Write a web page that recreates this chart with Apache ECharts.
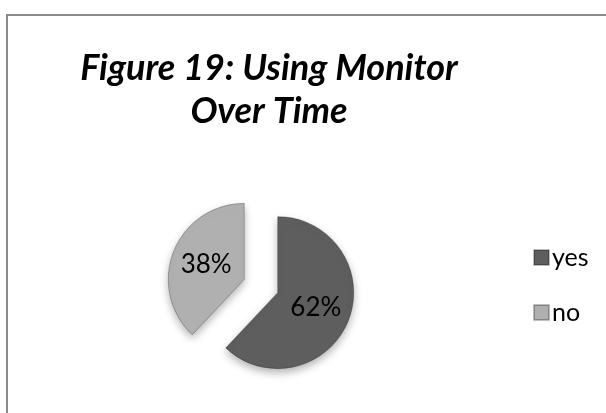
<!DOCTYPE html>
<html>
<head>
<meta charset="utf-8">
<script src="https://cdn.jsdelivr.net/npm/echarts@6/dist/echarts.min.js"></script>
<style>
	html, body { margin: 0; padding: 0; background: #fff; }
	#main { width: 606px; height: 413px; }
</style>
</head>
<body>
<div id="main"></div>
<script>
	// 数据
	var categories = ["yes", "no"];
	var values = [62, 38];
	var colors = ["#5e5e5e", "#b0b0b0"];

	var myChart = echarts.init(document.getElementById("main"));

	var pieData = categories.map(function(name, i) {
		return {
			name: name,
			value: values[i],
			selected: true,
			itemStyle: { color: colors[i] }
		};
	});

	var option = {
		backgroundColor: "#fff",
		title: {
			text: "Figure 19: Using Monitor\nOver Time",
			left: 264,
			top: 42,
			textAlign: "center",
			textStyle: {
				fontFamily: "Lato",
				fontSize: 36,
				fontWeight: "bold",
				fontStyle: "italic",
				color: "#000",
				lineHeight: 43
			}
		},
		legend: {
			orient: "vertical",
			left: 528,
			top: 240,
			itemWidth: 15,
			itemHeight: 15,
			itemGap: 30,
			icon: "rect",
			data: categories,
			textStyle: {
				fontFamily: "Lato",
				fontSize: 25,
				color: "#000",
				padding: [0, 0, 0, -2]
			}
		},
		graphic: [{
			type: "rect",
			shape: { x: 7, y: 15, width: 700, height: 500 },
			style: { fill: null, stroke: "#8c8c8c", lineWidth: 2 },
			silent: true
		}],
		series: [{
			type: "pie",
			center: [261, 286],
			radius: [0, 76],
			startAngle: 90,
			clockwise: true,
			selectedMode: "multiple",
			selectedOffset: 18,
			emphasis: { disabled: true },
			label: {
				show: true,
				position: "inside",
				formatter: "{d}%",
				fontFamily: "Lato",
				fontSize: 26,
				color: "#000"
			},
			labelLine: { show: false },
			itemStyle: {
				borderColor: "rgba(0,0,0,0.25)",
				borderWidth: 1,
				shadowColor: "rgba(0,0,0,0.3)",
				shadowBlur: 8,
				shadowOffsetY: 4
			},
			data: pieData
		}],
		animation: false
	};

	myChart.setOption(option, true);
</script>
</body>
</html>
